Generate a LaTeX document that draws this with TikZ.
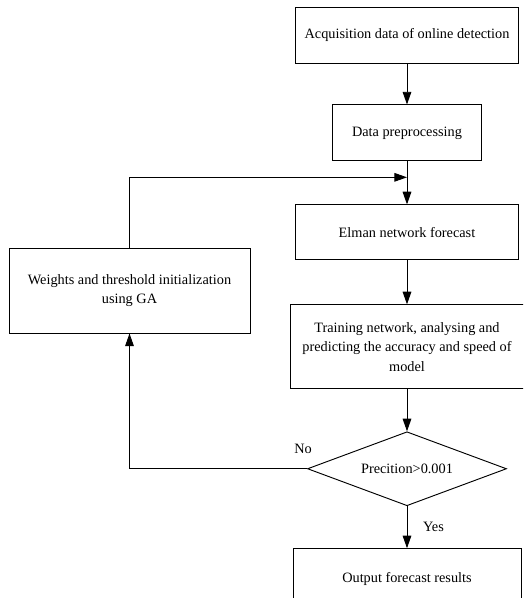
\documentclass[tikz,border=0pt]{standalone}
\usepackage{fontspec}
\setmainfont{Liberation Serif}
\usetikzlibrary{arrows.meta, calc, positioning, shapes.geometric}
\tikzstyle{flow}=[>={Triangle[length=3.8mm,width=2.6mm]}, line width=0.8pt, font=\fontsize{12.2}{16.5}\selectfont]
\tikzstyle{proc}=[draw, rectangle, align=center, inner sep=2pt]
\tikzstyle{cond}=[draw, diamond, aspect=2.7, inner sep=0pt]

\begin{document}
\begin{tikzpicture}[flow]
  \clip (0,0) rectangle (15.69,-17.94);
  \node[proc, minimum width=6.69cm, minimum height=1.68cm] (acq) at (12.21,-1.05) {Acquisition data of online detection};
  \node[proc, minimum width=4.47cm, minimum height=1.68cm] (prep) [below=1.23cm of acq] {Data preprocessing};
  \node[proc, minimum width=6.69cm, minimum height=1.65cm] (elman) [below=1.29cm of prep] {Elman network forecast};
  \node[proc, minimum width=7.02cm, minimum height=2.52cm] (train) [below=1.32cm of elman] {Training network, analysing and\\ predicting the accuracy and speed of\\ model};
  \node[cond, minimum width=5.97cm, minimum height=2.22cm] (test) [below=1.26cm of train] {Precition>0.001};
  \node[proc, minimum width=6.84cm, minimum height=1.8cm] (out) [below=1.26cm of test] {Output forecast results};
  \node[proc, minimum width=7.23cm, minimum height=2.55cm] (ga) at (3.885,-8.715) {Weights and threshold initialization\\ using GA};
  \coordinate (join) at ($(prep.south)!0.37!(elman.north)$);
  \path[->] (acq) edge (prep)
            (prep) edge (elman)
            (elman) edge (train)
            (train) edge (test);
  \path[->] (test) edge node[right=0.35cm] {Yes} (out);
  \draw[->] (test.west) -| (ga.south);
  \node (no) at ($(test.west)+(-0.12,0.6)$) {No};
  \draw[->] (ga.north) |- (join);
\end{tikzpicture}
\end{document}
